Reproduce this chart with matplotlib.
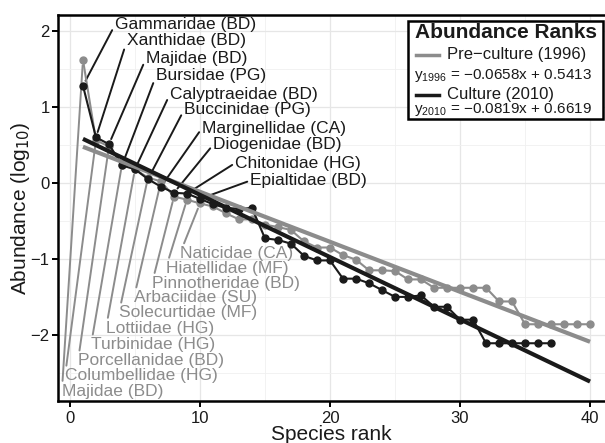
import numpy as np
import matplotlib
matplotlib.use("Agg")
import matplotlib.pyplot as plt
from matplotlib.patches import Rectangle
from matplotlib.lines import Line2D

plt.rcParams['font.family'] = ['Liberation Sans', 'DejaVu Sans']

# ---- data ----
rank_2010 = np.arange(1, 38)
abund_2010 = [1.28, 0.60, 0.51, 0.23, 0.18, 0.05, -0.05, -0.13, -0.14, -0.21,
              -0.28, -0.33, -0.34, -0.33, -0.73, -0.75, -0.80, -0.96, -1.02, -1.02,
              -1.26, -1.26, -1.32, -1.41, -1.50, -1.50, -1.48, -1.63, -1.63, -1.80,
              -1.80, -2.11, -2.11, -2.11, -2.11, -2.11, -2.11]

rank_1996 = np.arange(1, 41)
abund_1996 = [1.62, 0.56, 0.48, 0.24, 0.18, 0.07, 0.02, -0.18, -0.22, -0.27,
              -0.31, -0.40, -0.48, -0.48, -0.55, -0.58, -0.62, -0.77, -0.85, -0.85,
              -0.95, -1.01, -1.15, -1.15, -1.16, -1.27, -1.27, -1.38, -1.38, -1.38,
              -1.38, -1.38, -1.56, -1.56, -1.86, -1.86, -1.86, -1.86, -1.86, -1.86]

# regression coefficients (slope, intercept)
fit_1996 = (-0.0658, 0.5413)
fit_2010 = (-0.0819, 0.6619)
fit_range = [1, 40]

labels_2010 = ['Gammaridae (BD)', 'Xanthidae (BD)', 'Majidae (BD)', 'Bursidae (PG)',
               'Calyptraeidae (BD)', 'Buccinidae (PG)', 'Marginellidae (CA)',
               'Diogenidae (BD)', 'Chitonidae (HG)', 'Epialtidae (BD)']
labels_1996 = ['Majidae (BD)', 'Columbellidae (HG)', 'Porcellanidae (BD)',
               'Turbinidae (HG)', 'Lottiidae (HG)', 'Solecurtidae (MF)',
               'Arbaciidae (SU)', 'Pinnotheridae (BD)', 'Hiatellidae (MF)',
               'Naticidae (CA)']

# where the repelled labels sit (left edge, centre)
lab2010_x = [3.46, 4.38, 5.85, 6.62, 7.69, 8.77, 10.15, 11.0, 12.69, 13.85]
lab2010_y = [2.08, 1.87, 1.64, 1.41, 1.17, 0.96, 0.72, 0.50, 0.26, 0.03]
lab1996_x = [-0.62, -0.38, 0.62, 1.62, 2.77, 3.77, 4.92, 6.31, 7.38, 8.46]
lab1996_y = [-2.74, -2.54, -2.34, -2.13, -1.91, -1.71, -1.51, -1.32, -1.12, -0.93]

dark = '#1a1a1a'
grey = '#8c8c8c'
MINUS = '\u2212'

W, H = 605, 443
fig = plt.figure(figsize=(W / 100, H / 100), dpi=100)
ax = fig.add_axes([58 / W, (H - 401) / H, (W - 58) / W, (401 - 15) / H])

ax.set_xlim(-0.92, 41.15)
ax.set_ylim(-2.87, 2.21)

ax.set_xticks([0, 10, 20, 30, 40])
ax.set_yticks([-2, -1, 0, 1, 2])
ax.set_xticks([5, 15, 25, 35], minor=True)
ax.set_yticks([-2.5, -1.5, -0.5, 0.5, 1.5], minor=True)
ax.grid(which='major', color='#e6e6e6', lw=0.9, zorder=0)
ax.grid(which='minor', color='#f0f0f0', lw=0.6, zorder=0)
ax.tick_params(which='minor', length=0)
ax.tick_params(which='major', length=4, width=1.4, color='black',
               labelsize=12, labelcolor=dark)
ax.tick_params(axis='x', pad=3.5)
ax.tick_params(axis='y', pad=2)

for s in ['left', 'bottom', 'top']:
    ax.spines[s].set_linewidth(1.8)
    ax.spines[s].set_color('black')
ax.spines['right'].set_visible(False)

# label segments
for i in range(10):
    ax.annotate(labels_1996[i], xy=(rank_1996[i], abund_1996[i]),
                xytext=(lab1996_x[i], lab1996_y[i]), ha='left', va='center',
                fontsize=12.5, color=grey, zorder=2,
                arrowprops=dict(arrowstyle='-', color=grey, lw=1.4,
                                relpos=(0, 0.5), shrinkA=0, shrinkB=4))
    ax.annotate(labels_2010[i], xy=(rank_2010[i], abund_2010[i]),
                xytext=(lab2010_x[i], lab2010_y[i]), ha='left', va='center',
                fontsize=12.5, color=dark, zorder=2,
                arrowprops=dict(arrowstyle='-', color=dark, lw=1.4,
                                relpos=(0, 0.5), shrinkA=0, shrinkB=4))

ax.plot(rank_1996, abund_1996, '-o', color=grey, lw=1.5, ms=5, zorder=3)
ax.plot(rank_2010, abund_2010, '-o', color=dark, lw=1.5, ms=5, zorder=4)

xf = np.array(fit_range)
ax.plot(xf, fit_1996[0] * xf + fit_1996[1], color=grey, lw=3, zorder=5,
        solid_capstyle='butt')
ax.plot(xf, fit_2010[0] * xf + fit_2010[1], color=dark, lw=3, zorder=6,
        solid_capstyle='butt')

ax.set_xlabel('Species rank', fontsize=15, color=dark, labelpad=-1)
ax.set_ylabel(r'Abundance (log$_{10}$)', fontsize=15, color=dark, labelpad=-1)

# legend box, drawn by hand in pixel positions of the figure
def fx(px):
    return px / W

def fy(py):
    return 1 - py / H

fig.patches.append(Rectangle((fx(408), fy(119)), fx(603) - fx(408), fy(21) - fy(119),
                             transform=fig.transFigure, fill=True, fc='white',
                             ec='black', lw=1.8, zorder=10))
fig.text(fx(415), fy(32), 'Abundance Ranks', fontsize=15, fontweight='bold',
         color=dark, va='center', ha='left', zorder=11)
fig.lines.append(Line2D([fx(416), fx(439)], [fy(55), fy(55)], color=grey, lw=2.5,
                        transform=fig.transFigure, zorder=11))
fig.text(fx(447), fy(55), 'Pre' + MINUS + 'culture (1996)', fontsize=12, color=dark,
         va='center', ha='left', zorder=11)
fig.text(fx(414), fy(75), r'$\mathregular{y_{1996}}$ = ' + MINUS + '0.0658x + 0.5413',
         fontsize=11, color=dark, va='center', ha='left', zorder=11)
fig.lines.append(Line2D([fx(416), fx(439)], [fy(95), fy(95)], color=dark, lw=2.5,
                        transform=fig.transFigure, zorder=11))
fig.text(fx(447), fy(95), 'Culture (2010)', fontsize=12, color=dark,
         va='center', ha='left', zorder=11)
fig.text(fx(414), fy(110), r'$\mathregular{y_{2010}}$ = ' + MINUS + '0.0819x + 0.6619',
         fontsize=11, color=dark, va='center', ha='left', zorder=11)

fig.savefig('out.png', dpi=100)
